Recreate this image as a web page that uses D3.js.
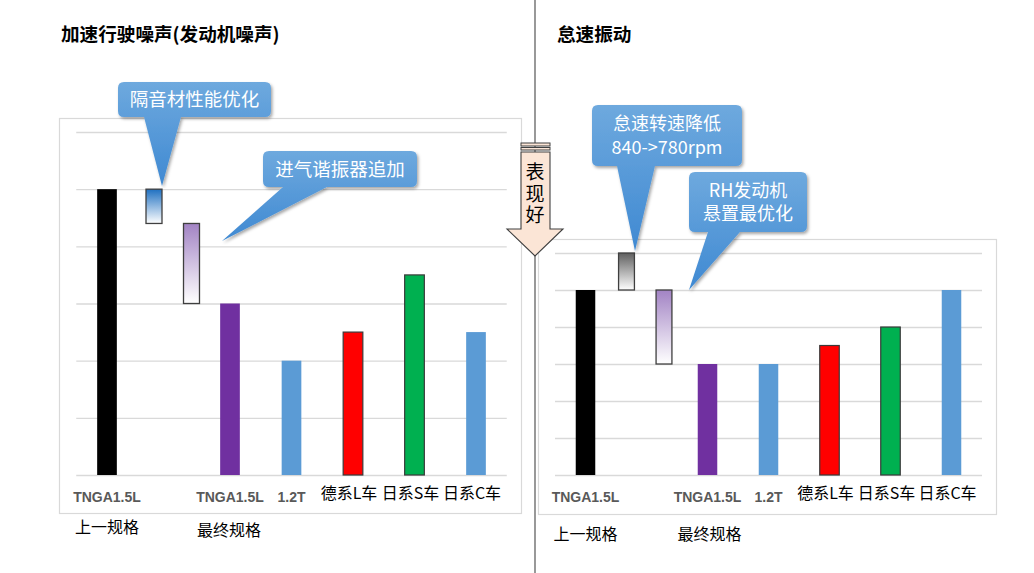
<!DOCTYPE html>
<html><head><meta charset="utf-8">
<script src="https://cdn.jsdelivr.net/npm/d3@7"></script>
<style>body{margin:0;background:#fff}svg{display:block}</style>
</head><body>
<svg id="c" width="1034" height="573"></svg>
<script>
// ---- data ----
const categories = ["TNGA1.5L", "", "TNGA1.5L", "1.2T", "德系L车", "日系S车", "日系C车"];
const subLabels = ["上一规格", "最终规格"];
const leftTitle = "加速行驶噪声(发动机噪声)";
const rightTitle = "怠速振动";
const leftValues = [5, null, 3, 2, 2.5, 3.5, 2.5];
const rightValues = [5, null, 3, 3, 3.5, 4, 5];
const leftSteps = [[5, 4.4], [4.4, 3.0]];
const rightSteps = [[6, 5], [5, 3]];
const leftNotes = [["隔音材性能优化"], ["进气谐振器追加"]];
const rightNotes = [["怠速转速降低", "840->780rpm"], ["RH发动机", "悬置最优化"]];
const arrowText = "表现好";
const yTicks = [0, 1, 2, 3, 4, 5, 6];

const barColors = ["#000000", null, "#7030a0", "#5b9bd5", "#ff0000", "#00b050", "#5b9bd5"];
const barStroke = [null, null, null, null, "#3a3a3a", "#3a3a3a", null];

const svg = d3.select("#c");
const defs = svg.append("defs");
function grad(id, top, bottom) {
  const g = defs.append("linearGradient").attr("id", id).attr("x1", 0).attr("y1", 0).attr("x2", 0).attr("y2", 1);
  g.append("stop").attr("offset", "0%").attr("stop-color", top);
  g.append("stop").attr("offset", "100%").attr("stop-color", bottom);
}
grad("gBlue", "#1f70c1", "#ffffff");
grad("gPurple", "#a283c4", "#ffffff");
grad("gGray", "#5f5f5f", "#ffffff");
grad("gCall", "#6ea9de", "#3f89d2");
const f = defs.append("filter").attr("id", "sh").attr("x", "-20%").attr("y", "-20%").attr("width", "140%").attr("height", "140%");
f.append("feDropShadow").attr("dx", 1.5).attr("dy", 2).attr("stdDeviation", 1.5).attr("flood-color", "#000").attr("flood-opacity", 0.35);

const CJK = "'Noto Sans CJK SC','Noto Sans',sans-serif";

// divider line
svg.append("line").attr("x1", 535).attr("x2", 535).attr("y1", 0).attr("y2", 573)
  .attr("stroke", "#7f7f7f").attr("stroke-width", 1.6);

function callout(g, box, tip, lines) {
  const {x, y, w, h, b1, b2} = box, r = 6;
  const p = `M${x + r},${y} H${x + w - r} Q${x + w},${y} ${x + w},${y + r} V${y + h - r} Q${x + w},${y + h} ${x + w - r},${y + h}` +
    ` H${b2} L${tip[0]},${tip[1]} L${b1},${y + h} H${x + r} Q${x},${y + h} ${x},${y + h - r} V${y + r} Q${x},${y} ${x + r},${y} Z`;
  g.append("path").attr("d", p).attr("fill", "url(#gCall)").attr("filter", "url(#sh)");
  const lh = 23.5;
  const cy = y + h / 2 - (lines.length - 1) * lh / 2;
  lines.forEach((t, i) => {
    g.append("text").attr("x", x + w / 2).attr("y", cy + i * lh).attr("dy", "0.36em")
      .attr("text-anchor", "middle").attr("fill", "#fff").attr("font-family", CJK)
      .attr("font-size", lines.length > 1 ? 18 : 18.5).text(t);
  });
}

function panel(cfg) {
  const g = svg.append("g");
  g.append("rect").attr("x", cfg.frame[0]).attr("y", cfg.frame[1]).attr("width", cfg.frame[2]).attr("height", cfg.frame[3])
    .attr("fill", "#fff").attr("stroke", "#d9d9d9").attr("stroke-width", 1.2);
  g.append("text").attr("x", cfg.titleX).attr("y", 41).attr("font-family", CJK).attr("font-weight", "bold")
    .attr("font-size", 18.6).attr("fill", "#000").text(cfg.title);

  const x = d3.scaleBand().domain(d3.range(categories.length)).range(cfg.xr).paddingInner(0).paddingOuter(0);
  const y = d3.scaleLinear().domain([0, 6]).range([475, cfg.yTop]);

  // gridlines via axis
  const ax = d3.axisLeft(y).tickValues(yTicks).tickSize(-(cfg.xr[1] - cfg.xr[0])).tickFormat("");
  const ag = g.append("g").attr("transform", `translate(${cfg.xr[0]},0)`).call(ax);
  ag.select(".domain").remove();
  ag.selectAll(".tick line").attr("stroke", "#d9d9d9").attr("stroke-width", 1.3);

  const bw = x.bandwidth() * 0.32;
  const data = cfg.values.map((v, i) => ({v, i})).filter(d => d.v != null);
  g.selectAll(".bar").data(data).enter().append("rect")
    .attr("x", d => x(d.i) + x.bandwidth() / 2 - bw / 2)
    .attr("width", bw)
    .attr("y", d => y(d.v))
    .attr("height", d => y(0) - y(d.v))
    .attr("fill", d => barColors[d.i])
    .attr("stroke", d => barStroke[d.i] || "none")
    .attr("stroke-width", 1.2);

  // floating step bars
  const fw = x.bandwidth() * 0.26;
  cfg.steps.forEach((s, k) => {
    const cx = x(1) + x.bandwidth() / 2 + cfg.stepOff[k];
    g.append("rect").attr("x", cx - fw / 2).attr("width", fw)
      .attr("y", y(s[0])).attr("height", y(s[1]) - y(s[0]))
      .attr("fill", `url(#${cfg.stepFill[k]})`).attr("stroke", "#3f3f3f").attr("stroke-width", 1.3);
  });

  // category labels
  categories.forEach((c, i) => {
    if (!c) return;
    const latin = /^[A-Z0-9.]+$/.test(c);
    g.append("text").attr("x", x(i) + x.bandwidth() / 2 - (latin ? 0 : 4)).attr("y", latin ? 502 : 499)
      .attr("text-anchor", "middle")
      .attr("font-family", latin ? "'Liberation Sans',Arial,sans-serif" : CJK)
      .attr("font-weight", latin ? "bold" : "normal")
      .attr("font-size", latin ? 14 : 16)
      .attr("fill", latin ? "#595959" : "#000").text(c);
  });
  subLabels.forEach((t, k) => {
    const i = k === 0 ? 0 : 2;
    g.append("text").attr("x", x(i) + x.bandwidth() / 2 + cfg.subDx[k]).attr("y", cfg.subY[k])
      .attr("text-anchor", "middle").attr("font-family", CJK).attr("font-size", 16).attr("fill", "#000").text(t);
  });

  cfg.notes.forEach((lines, k) => callout(g, cfg.boxes[k], cfg.tips[k], lines));
}

panel({
  title: leftTitle, titleX: 61, frame: [59.5, 118.5, 462, 395], xr: [76.25, 506.75], yTop: 132,
  values: leftValues, steps: leftSteps, stepOff: [-14.5, 23], stepFill: ["gBlue", "gPurple"],
  subDx: [0, -1], subY: [533, 536], notes: leftNotes,
  boxes: [{x: 118, y: 82, w: 153, h: 35, b1: 144, b2: 181}, {x: 263, y: 151, w: 154, h: 36, b1: 283, b2: 327}],
  tips: [[162, 186], [222, 241]]
});
panel({
  title: rightTitle, titleX: 557, frame: [538.5, 239.5, 458, 275], xr: [555, 982], yTop: 253,
  values: rightValues, steps: rightSteps, stepOff: [-20, 17.5], stepFill: ["gGray", "gPurple"],
  subDx: [0, 2], subY: [540, 540], notes: rightNotes,
  boxes: [{x: 592, y: 105, w: 150, h: 61, b1: 617, b2: 655}, {x: 689, y: 172, w: 118, h: 60, b1: 708, b2: 740}],
  tips: [[635, 251], [689, 290]]
});

// "表现好" arrow
const ar = svg.append("g");
ar.append("path").attr("d", "M521,152 H550 V229 H563 L535,256 L507,229 H521 Z")
  .attr("fill", "#fbe5d6").attr("stroke", "#404040").attr("stroke-width", 1.1);
ar.append("rect").attr("x", 521).attr("y", 143).attr("width", 29).attr("height", 3).attr("fill", "#fbe5d6").attr("stroke", "#404040").attr("stroke-width", 1);
ar.append("rect").attr("x", 521).attr("y", 147.5).attr("width", 29).attr("height", 2.5).attr("fill", "#fbe5d6").attr("stroke", "#404040").attr("stroke-width", 1);
ar.append("text").attr("x", 535).attr("y", 162).attr("writing-mode", "tb")
  .style("writing-mode", "vertical-rl").attr("letter-spacing", 2.8)
  .attr("font-family", CJK).attr("font-size", 19).attr("fill", "#000").text(arrowText);
</script>
</body></html>
